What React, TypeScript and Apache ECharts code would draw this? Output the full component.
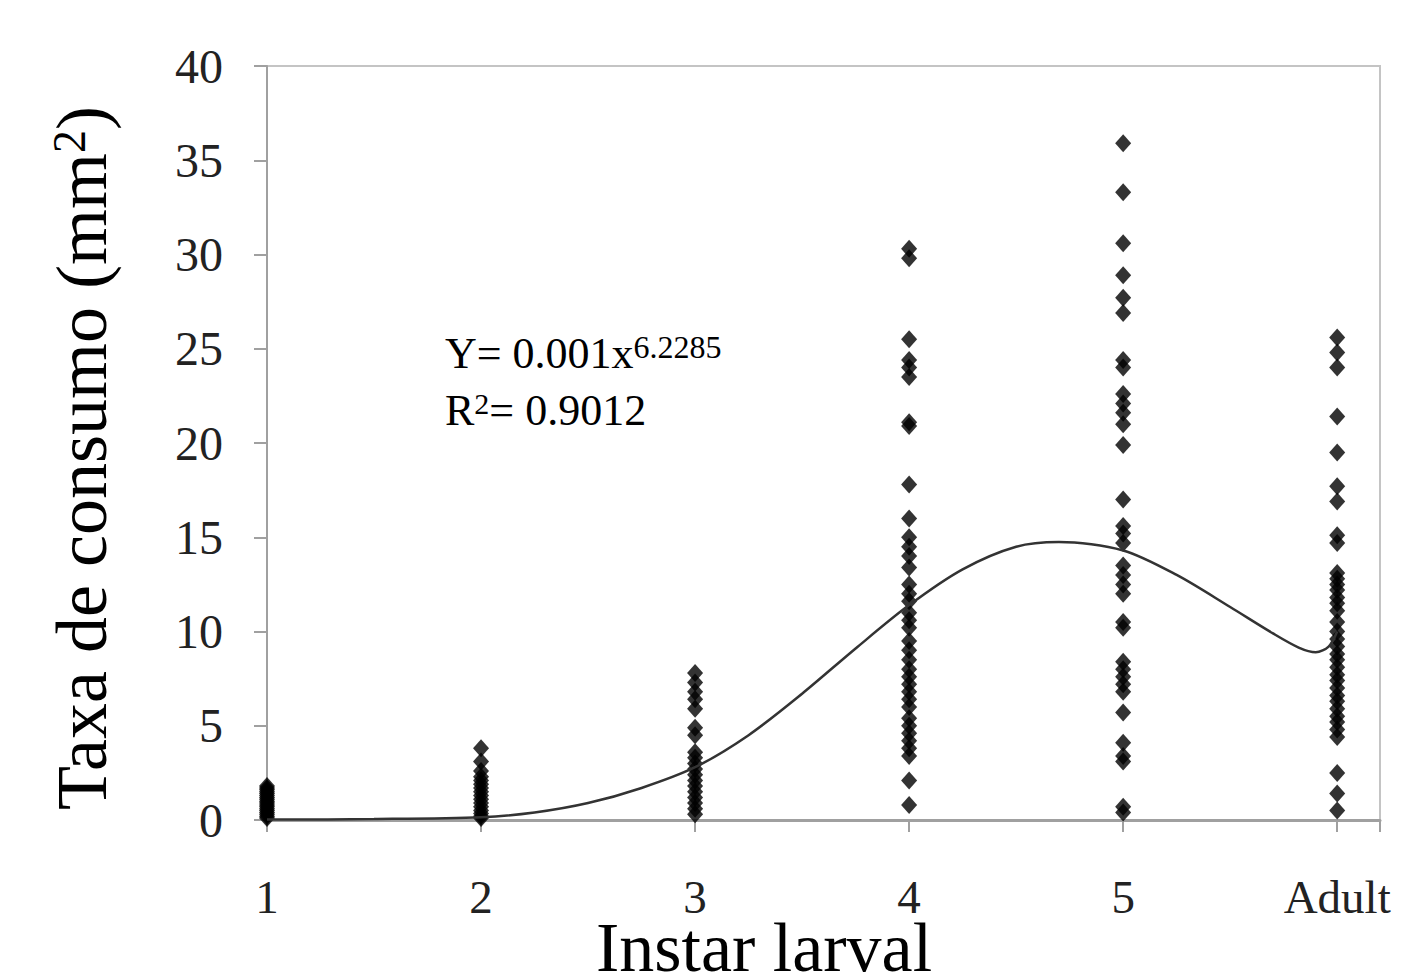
import React, { useEffect, useRef } from "react";
import * as echarts from "echarts";

// Category tick labels (x = 1..6)
const xTickLabels = ["1", "2", "3", "4", "5", "Adult"];

// Observed consumption values per instar (mm²)
const instar1 = [0.1, 0.2, 0.3, 0.4, 0.5, 0.6, 0.7, 0.8, 0.9, 1.0, 1.1, 1.2, 1.3, 1.4, 1.5, 1.6, 1.7, 1.8];
const instar2 = [3.8, 3.1, 2.6, 2.3, 2.1, 1.9, 1.7, 1.5, 1.3, 1.1, 0.9, 0.7, 0.5, 0.35, 0.2, 0.1];
const instar3 = [7.8, 7.3, 6.8, 6.4, 5.9, 4.9, 4.5, 3.6, 3.3, 3.0, 2.7, 2.4, 2.1, 1.8, 1.5, 1.2, 0.9, 0.6, 0.3];
const instar4 = [30.3, 29.8, 25.5, 24.4, 24.0, 23.5, 21.1, 20.9, 17.8, 16.0, 15.0, 14.5, 14.0, 13.4, 12.5, 12.0, 11.6, 11.0, 10.6, 10.2, 9.5, 9.0, 8.5, 8.0, 7.6, 7.2, 6.8, 6.4, 6.0, 5.4, 5.0, 4.6, 4.2, 3.8, 3.4, 2.1, 0.8];
const instar5 = [35.9, 33.3, 30.6, 28.9, 27.7, 26.9, 24.4, 24.0, 22.6, 22.1, 21.6, 21.0, 19.9, 17.0, 15.6, 15.2, 14.7, 13.5, 13.0, 12.5, 12.0, 10.5, 10.2, 8.4, 8.0, 7.6, 7.2, 6.8, 5.7, 4.1, 3.4, 3.1, 0.7, 0.4];
const adult = [25.6, 24.8, 24.0, 21.4, 19.5, 17.7, 16.9, 15.1, 14.7, 13.1, 12.8, 12.5, 12.2, 11.8, 11.5, 11.1, 10.5, 10.0, 9.6, 9.2, 8.8, 8.5, 8.1, 7.7, 7.4, 7.0, 6.6, 6.3, 5.9, 5.5, 5.2, 4.8, 4.4, 2.5, 1.4, 0.5];

// Trend curve
const curveX = [1.0, 1.5, 2.0, 2.25, 2.5, 2.75, 3.0, 3.25, 3.5, 3.75, 4.0, 4.25, 4.5, 4.7, 5.0, 5.25, 5.5, 5.7, 5.82, 5.9, 5.96, 6.0];
const curveY = [0.02, 0.05, 0.15, 0.4, 0.9, 1.7, 2.8, 4.5, 6.7, 9.1, 11.4, 13.3, 14.5, 14.75, 14.3, 13.0, 11.3, 9.9, 9.15, 8.9, 9.2, 10.0];

const groups = [instar1, instar2, instar3, instar4, instar5, adult];

const FONT = "'Liberation Serif', 'Times New Roman', serif";

export default function App() {
  const ref = useRef<HTMLDivElement>(null);
  useEffect(() => {
    if (!ref.current) return;
    const chart = echarts.init(ref.current, null, { renderer: "svg" });
    const scatterData: number[][] = [];
    groups.forEach((g, i) => g.forEach((v) => scatterData.push([i + 1, v])));
    const lineData = curveX.map((x, i) => [x, curveY[i]]);
    chart.setOption({
      animation: false,
      backgroundColor: "#fff",
      grid: {
        left: 267,
        right: 22,
        top: 66,
        bottom: 158,
        show: true,
        borderColor: "#c4c4c4",
        borderWidth: 2,
      },
      xAxis: {
        type: "value",
        min: 1,
        max: 6.2,
        interval: 1,
        splitLine: { show: false },
        axisLine: { show: true, onZero: false, lineStyle: { color: "#a0a0a0", width: 3 } },
        axisTick: { show: true, length: 12, lineStyle: { color: "#a0a0a0", width: 2 } },
        axisLabel: {
          margin: 58,
          fontFamily: FONT,
          fontSize: 47,
          lineHeight: 38,
          color: "#222",
          formatter: (v: number) => (Number.isInteger(v) && v >= 1 && v <= 6 ? xTickLabels[v - 1] : ""),
        },
      },
      yAxis: {
        type: "value",
        min: 0,
        max: 40,
        interval: 5,
        splitLine: { show: false },
        axisLine: { show: true, lineStyle: { color: "#a0a0a0", width: 2 } },
        axisTick: { show: true, length: 13, lineStyle: { color: "#a0a0a0", width: 2 } },
        axisLabel: {
          margin: 44,
          fontFamily: FONT,
          fontSize: 48,
          color: "#222",
        },
      },
      graphic: [
        {
          type: "text",
          x: 764,
          y: 947,
          style: {
            text: "Instar larval",
            font: `70px ${FONT}`,
            lineHeight: 58,
            fill: "#000",
            align: "center",
            verticalAlign: "middle",
          },
        },
        {
          type: "text",
          x: 82,
          y: 458,
          rotation: Math.PI / 2,
          style: {
            text: "{a|Taxa de consumo (mm}{s|2}{a|)}",
            align: "center",
            verticalAlign: "middle",
            rich: {
              a: { fontFamily: FONT, fontSize: 72, lineHeight: 72, color: "#000" },
              s: { fontFamily: FONT, fontSize: 46, lineHeight: 46, verticalAlign: "top", color: "#000" },
            },
          },
        },
        {
          type: "text",
          x: 445,
          y: 353,
          style: {
            text: "{a|Y= 0.001x}{s|6.2285}",
            align: "left",
            verticalAlign: "middle",
            rich: {
              a: { fontFamily: FONT, fontSize: 44, lineHeight: 44, color: "#333" },
              s: { fontFamily: FONT, fontSize: 32, lineHeight: 32, verticalAlign: "top", color: "#333" },
            },
          },
        },
        {
          type: "text",
          x: 445,
          y: 410,
          style: {
            text: "{a|R}{s|2}{a|= 0.9012}",
            align: "left",
            verticalAlign: "middle",
            rich: {
              a: { fontFamily: FONT, fontSize: 44, lineHeight: 44, color: "#333" },
              s: { fontFamily: FONT, fontSize: 30, lineHeight: 30, verticalAlign: "top", color: "#333" },
            },
          },
        },
      ],
      series: [
        {
          type: "scatter",
          data: scatterData,
          symbol: "diamond",
          symbolSize: [16, 18],
          itemStyle: { color: "#000" },
          z: 2,
        },
        {
          type: "line",
          data: lineData,
          smooth: 0.3,
          showSymbol: false,
          lineStyle: { color: "#333", width: 2.5 },
          z: 3,
        },
      ],
    });
    return () => chart.dispose();
  }, []);
  return (
    <div
      ref={ref}
      style={{ position: "fixed", left: 0, top: 0, width: 1402, height: 978 }}
    />
  );
}
